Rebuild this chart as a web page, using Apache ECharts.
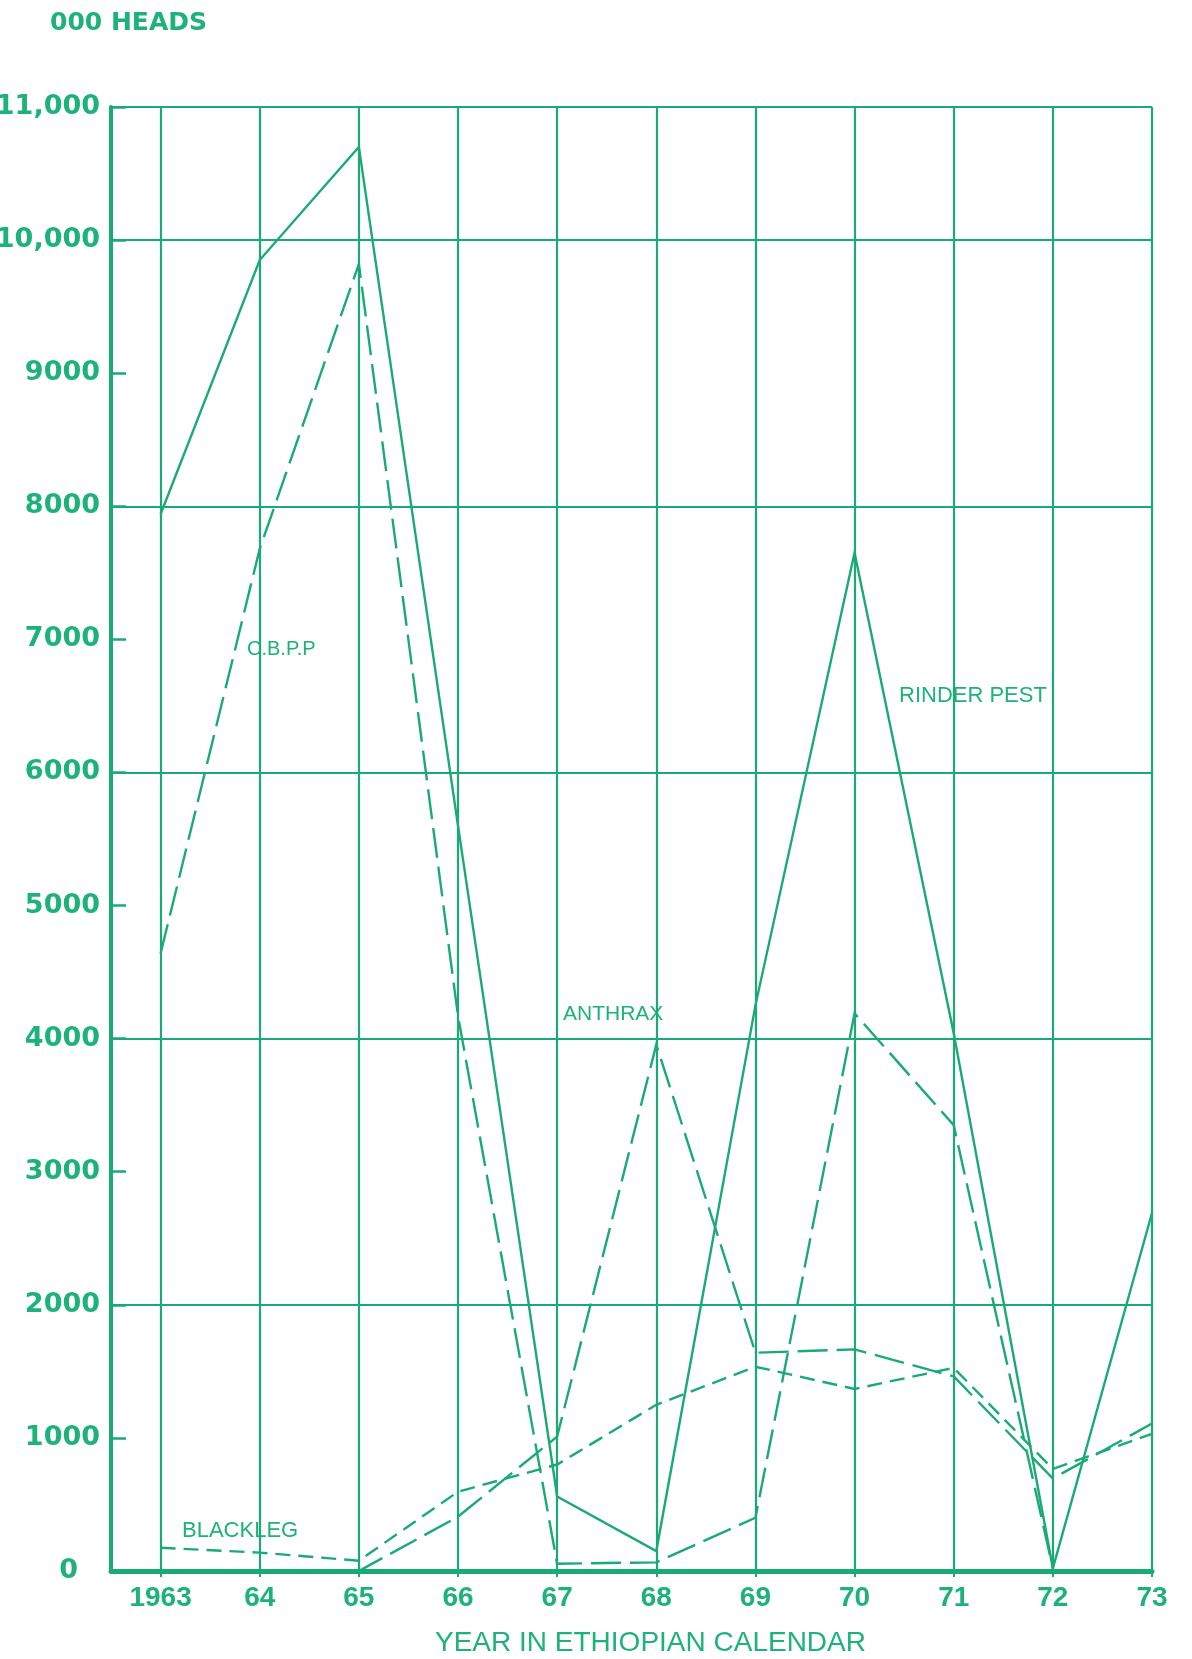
<!DOCTYPE html>
<html>
<head>
<meta charset="utf-8">
<script src="https://cdn.jsdelivr.net/npm/echarts@6/dist/echarts.min.js"></script>
<style>
html,body{margin:0;padding:0;background:#fff;}
#chart{width:1192px;height:1659px;}
</style>
</head>
<body>
<div id="chart"></div>
<script>
// ---- data (thousand heads vaccinated, by Ethiopian calendar year) ----
var years = [1963, 1964, 1965, 1966, 1967, 1968, 1969, 1970, 1971, 1972, 1973];
var xTickLabels = ['1963', '64', '65', '66', '67', '68', '69', '70', '71', '72', '73'];
var yTickValues = [0, 1000, 2000, 3000, 4000, 5000, 6000, 7000, 8000, 9000, 10000, 11000];
var yTickLabels = ['0', '1000', '2000', '3000', '4000', '5000', '6000', '7000', '8000', '9000', '10,000', '11,000'];
var rinderpest = [7940, 9850, 10700, 5600, 560, 150, 4250, 7650, 4040, 20, 2690];
var cbpp       = [4640, 7680, 9820, 4170, 55, 65, 400, 4190, 3350, 20, null];
var anthrax    = [0, 0, 0, 408, 1010, 3955, 1640, 1665, 1462, 695, 1108];
var blackleg   = [175, 138, 77, 596, 800, 1249, 1535, 1368, 1526, 767, 1030];
var seriesNames = ['RINDER PEST', 'C.B.P.P', 'ANTHRAX', 'BLACKLEG'];

var GREEN = '#19aa76';
var TEXT = '#1db27a';

function pairs(vals) {
  return years.map(function (y, i) { return [y, vals[i]]; });
}

var chart = echarts.init(document.getElementById('chart'), null, {renderer: 'canvas'});

function lineSeries(name, vals, type, width) {
  return {
    name: name,
    type: 'line',
    data: pairs(vals),
    xAxisIndex: 0,
    yAxisIndex: 0,
    symbol: 'none',
    silent: true,
    animation: false,
    connectNulls: false,
    lineStyle: {color: GREEN, width: width, type: type, cap: 'butt', join: 'miter'},
    z: 5
  };
}

var option = {
  backgroundColor: '#ffffff',
  animation: false,
  grid: {left: 111, right: 40, top: 107, bottom: 88, containLabel: false, outerBoundsMode: 'none'},
  xAxis: [{
    type: 'value',
    min: 1962.5,
    max: 1973,
    axisLine: {show: true, onZero: false, lineStyle: {color: GREEN, width: 5}},
    axisTick: {show: true, length: 6, lineStyle: {color: GREEN, width: 2}, customValues: years},
    axisLabel: {
      show: true,
      customValues: years,
      margin: 13,
      color: TEXT,
      fontFamily: 'Liberation Sans',
      fontWeight: 'bold',
      fontSize: 28,
      formatter: function (v) { var i = years.indexOf(Math.round(v)); return i >= 0 ? xTickLabels[i] : ''; }
    },
    splitLine: {show: true, lineStyle: {color: GREEN, width: 2.2}},
    name: 'YEAR IN ETHIOPIAN CALENDAR',
    nameLocation: 'middle',
    nameGap: 58,
    nameTextStyle: {
      color: TEXT, fontFamily: 'Liberation Sans', fontWeight: 'normal', fontSize: 28,
      letterSpacing: 1.2, padding: [0, 0, 0, 38]
    }
  }],
  yAxis: [{
    type: 'value',
    min: 0,
    max: 11000,
    interval: 1000,
    position: 'left',
    axisLine: {show: true, onZero: false, lineStyle: {color: GREEN, width: 4}},
    axisTick: {show: true, inside: true, length: 15, lineStyle: {color: GREEN, width: 2.5}},
    axisLabel: {
      show: true,
      margin: 11,
      color: TEXT,
      fontFamily: 'DejaVu Sans',
      fontWeight: 'bold',
      fontSize: 27,
      formatter: function (v) {
        var i = yTickValues.indexOf(v);
        if (i === 0) return '{z|' + yTickLabels[0] + '}';
        return i >= 0 ? yTickLabels[i] : '';
      },
      rich: {z: {color: TEXT, fontFamily: 'DejaVu Sans', fontWeight: 'bold', fontSize: 27, padding: [0, 22, 0, 0]}}
    },
    splitLine: {show: false}
  }, {
    type: 'value',
    min: 0,
    max: 11000,
    interval: 2000,
    position: 'left',
    axisLine: {show: false},
    axisTick: {show: false},
    axisLabel: {show: false},
    splitLine: {show: true, lineStyle: {color: GREEN, width: 2.2}}
  }],
  graphic: [
    {type: 'text', left: 50, top: 11, style: {text: '000 HEADS', fill: TEXT, font: 'bold 25px "DejaVu Sans"'}},
    {type: 'text', left: 247, top: 639, style: {text: seriesNames[1], fill: TEXT, font: '20px "Liberation Sans"', letterSpacing: -1.5}},
    {type: 'text', left: 899, top: 685, style: {text: seriesNames[0], fill: TEXT, font: '22px "Liberation Sans"', letterSpacing: 0.7}},
    {type: 'text', left: 563, top: 1004, style: {text: seriesNames[2], fill: TEXT, font: '21px "Liberation Sans"', letterSpacing: 0.2}},
    {type: 'text', left: 182, top: 1520, style: {text: seriesNames[3], fill: TEXT, font: '22px "Liberation Sans"', letterSpacing: 0.8}}
  ],
  series: [
    lineSeries(seriesNames[0], rinderpest, 'solid', 2.4),
    lineSeries(seriesNames[1], cbpp, [30, 9], 2.4),
    lineSeries(seriesNames[2], anthrax, [30, 9], 2.4),
    lineSeries(seriesNames[3], blackleg, [15, 8], 2.4)
  ]
};
chart.setOption(option);
</script>
</body>
</html>
